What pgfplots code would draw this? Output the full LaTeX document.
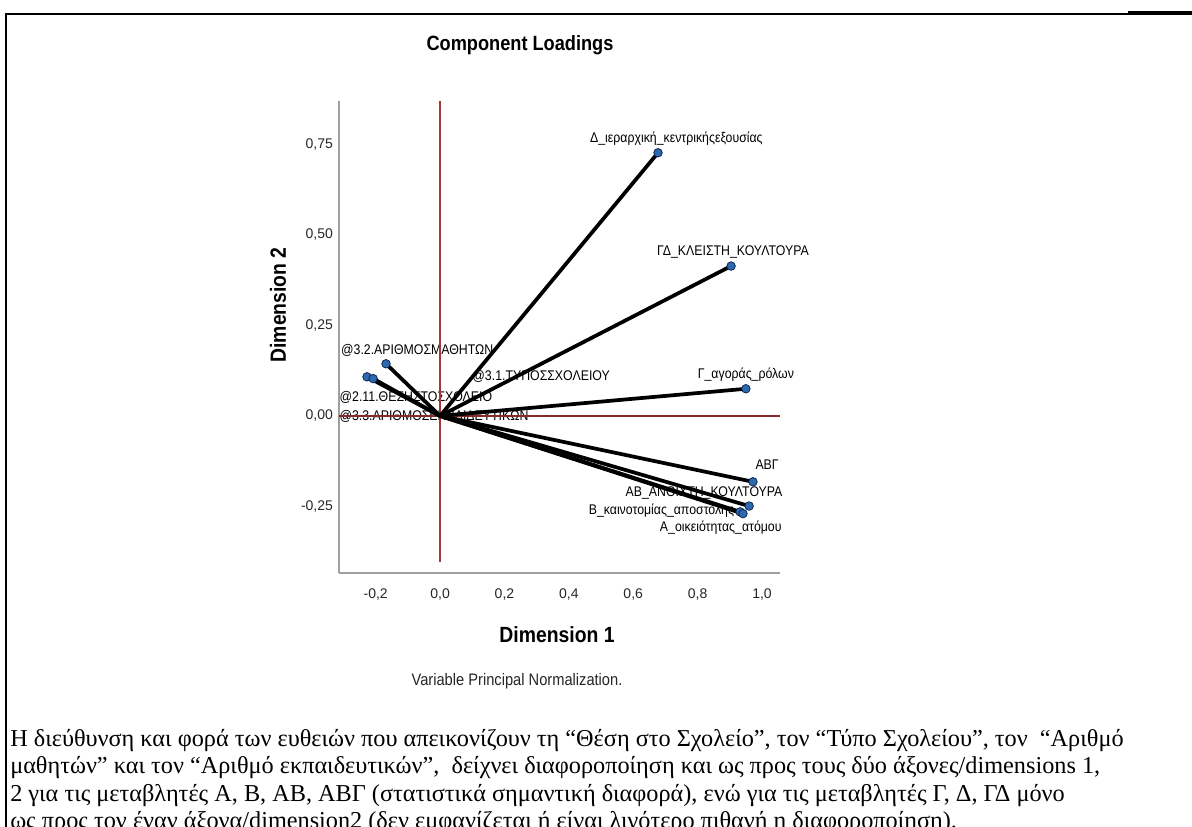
\documentclass[border=0pt]{standalone}
\usepackage{fontspec}
\setmainfont{Liberation Serif}
\newfontfamily\arial{Liberation Sans}
\newfontfamily\arialn[FakeStretch=0.88]{Liberation Sans}
\usepackage{pgfplots}
\pgfplotsset{compat=1.18}
\definecolor{refred}{RGB}{165,55,55}
\definecolor{mkfill}{RGB}{45,105,175}
\definecolor{mkdraw}{RGB}{15,40,80}
\tikzset{lab/.style={font=\arialn\fontsize{10.5}{12}\selectfont, inner sep=0pt}}
\pgfplotsset{vec/.style={black, line width=2.8pt, mark=none}}
\begin{document}
\begin{tikzpicture}[x=0.75pt,y=0.75pt]
\path[use as bounding box] (0,0) rectangle (1192,826);
\draw[line width=1.2pt] (6,-5) -- (6,812) -- (1128,812);
\draw[line width=2.4pt] (1128,813) -- (1195,813);
\node[font=\arialn\bfseries\fontsize{15.5}{18}\selectfont] at (520,781) {Component Loadings};
\node[font=\arialn\bfseries\fontsize{16.5}{20}\selectfont] at (557,191) {Dimension 1};
\node[font=\arialn\bfseries\fontsize{16.5}{20}\selectfont, rotate=90] at (278,521) {Dimension 2};
\node[font=\arialn\fontsize{12.5}{15}\selectfont, text=black!85] at (517,145) {Variable Principal Normalization.};
\node[anchor=north west, inner sep=0pt, align=left, font=\fontsize{18.2}{20.6}\selectfont] at (10,97) {%
Η διεύθυνση και φορά των ευθειών που απεικονίζουν τη “Θέση στο Σχολείο”, τον “Τύπο Σχολείου”, τον\ \ “Αριθμό\\
μαθητών” και τον “Αριθμό εκπαιδευτικών”,\ \ δείχνει διαφοροποίηση και ως προς τους δύο άξονες/dimensions 1,\\
2 για τις μεταβλητές Α, Β, ΑΒ, ΑΒΓ (στατιστικά σημαντική διαφορά), ενώ για τις μεταβλητές Γ, Δ, ΓΔ μόνο\\
ως προς τον έναν άξονα/dimension2 (δεν εμφανίζεται ή είναι λιγότερο πιθανή η διαφοροποίηση).};
\begin{axis}[
  at={(254.25pt,189.75pt)}, anchor=south west,
  width=330.75pt, height=354pt, scale only axis,
  xmin=-0.314, xmax=1.056, ymin=-0.434, ymax=0.87,
  axis x line*=bottom, axis y line*=left,
  axis line style={draw=gray!75, line width=0.9pt, -},
  major tick length=0pt,
  xtick={-0.2,0,0.2,0.4,0.6,0.8,1.0},
  ytick={-0.25,0,0.25,0.5,0.75},
  xticklabel style={/pgf/number format/fixed, /pgf/number format/fixed zerofill, /pgf/number format/precision=1, /pgf/number format/use comma, yshift=-8pt},
  yticklabel style={/pgf/number format/fixed, /pgf/number format/fixed zerofill, /pgf/number format/precision=2, /pgf/number format/use comma, xshift=-1pt},
  tick label style={font=\arial\fontsize{10.5}{12}\selectfont, text=black!85, /pgf/number format/assume math mode=true},
  clip=false,
]
% labels
\node[lab, anchor=east] at (axis cs:1.003,0.765) {Δ\_ιεραρχική\_κεντρικήςεξουσίας};
\node[lab] at (axis cs:0.910,0.453) {ΓΔ\_ΚΛΕΙΣΤΗ\_ΚΟΥΛΤΟΥΡΑ};
\node[lab] at (axis cs:0.950,0.113) {Γ\_αγοράς\_ρόλων};
\node[lab] at (axis cs:1.016,-0.135) {ΑΒΓ};
\node[lab] at (axis cs:0.820,-0.213) {ΑΒ\_ΑΝΟΙΧΤΗ\_ΚΟΥΛΤΟΥΡΑ};
\node[lab, anchor=east] at (axis cs:0.914,-0.262) {Β\_καινοτομίας\_αποστολης};
\node[lab] at (axis cs:0.872,-0.309) {Α\_οικειότητας\_ατόμου};
\node[lab] at (axis cs:-0.071,0.182) {@3.2.ΑΡΙΘΜΟΣΜΑΘΗΤΩΝ};
\node[lab] at (axis cs:0.314,0.108) {@3.1.ΤΥΠΟΣΣΧΟΛΕΙΟΥ};
\node[lab] at (axis cs:-0.075,0.052) {@2.11.ΘΕΣΗΣΤΟΣΧΟΛΕΙΟ};
\node[lab] at (axis cs:-0.019,0.0) {@3.3.ΑΡΙΘΜΟΣΕΚΠΑΙΔΕΥΤΙΚΩΝ};
% reference lines
\addplot[refred, line width=0.9pt] coordinates {(0,-0.403) (0,0.87)};
\addplot[refred!80!black, line width=0.9pt] coordinates {(-0.314,0) (1.056,0)};
% loading vectors
\addplot[vec] coordinates {(0,0) (0.677,0.727)};
\addplot[vec] coordinates {(0,0) (0.904,0.414)};
\addplot[vec] coordinates {(0,0) (0.950,0.075)};
\addplot[vec] coordinates {(0,0) (0.972,-0.182)};
\addplot[vec] coordinates {(0,0) (0.960,-0.249)};
\addplot[vec] coordinates {(0,0) (0.932,-0.265)};
\addplot[vec] coordinates {(0,0) (0.941,-0.270)};
\addplot[vec] coordinates {(0,0) (-0.168,0.144)};
\addplot[vec] coordinates {(0,0) (-0.227,0.108)};
\addplot[vec] coordinates {(0,0) (-0.208,0.103)};
\addplot[vec] coordinates {(0,0) (0.015,0.008)};
% markers
\addplot[only marks, mark=*, mark size=3.2pt, mark options={fill=mkfill, draw=mkdraw, line width=0.6pt}] coordinates {
(0.677,0.727) (0.904,0.414) (0.950,0.075) (0.972,-0.182) (0.960,-0.249)
(0.932,-0.265) (0.941,-0.270) (-0.168,0.144) (-0.227,0.108) (-0.208,0.103)};
\end{axis}
\end{tikzpicture}
\end{document}
